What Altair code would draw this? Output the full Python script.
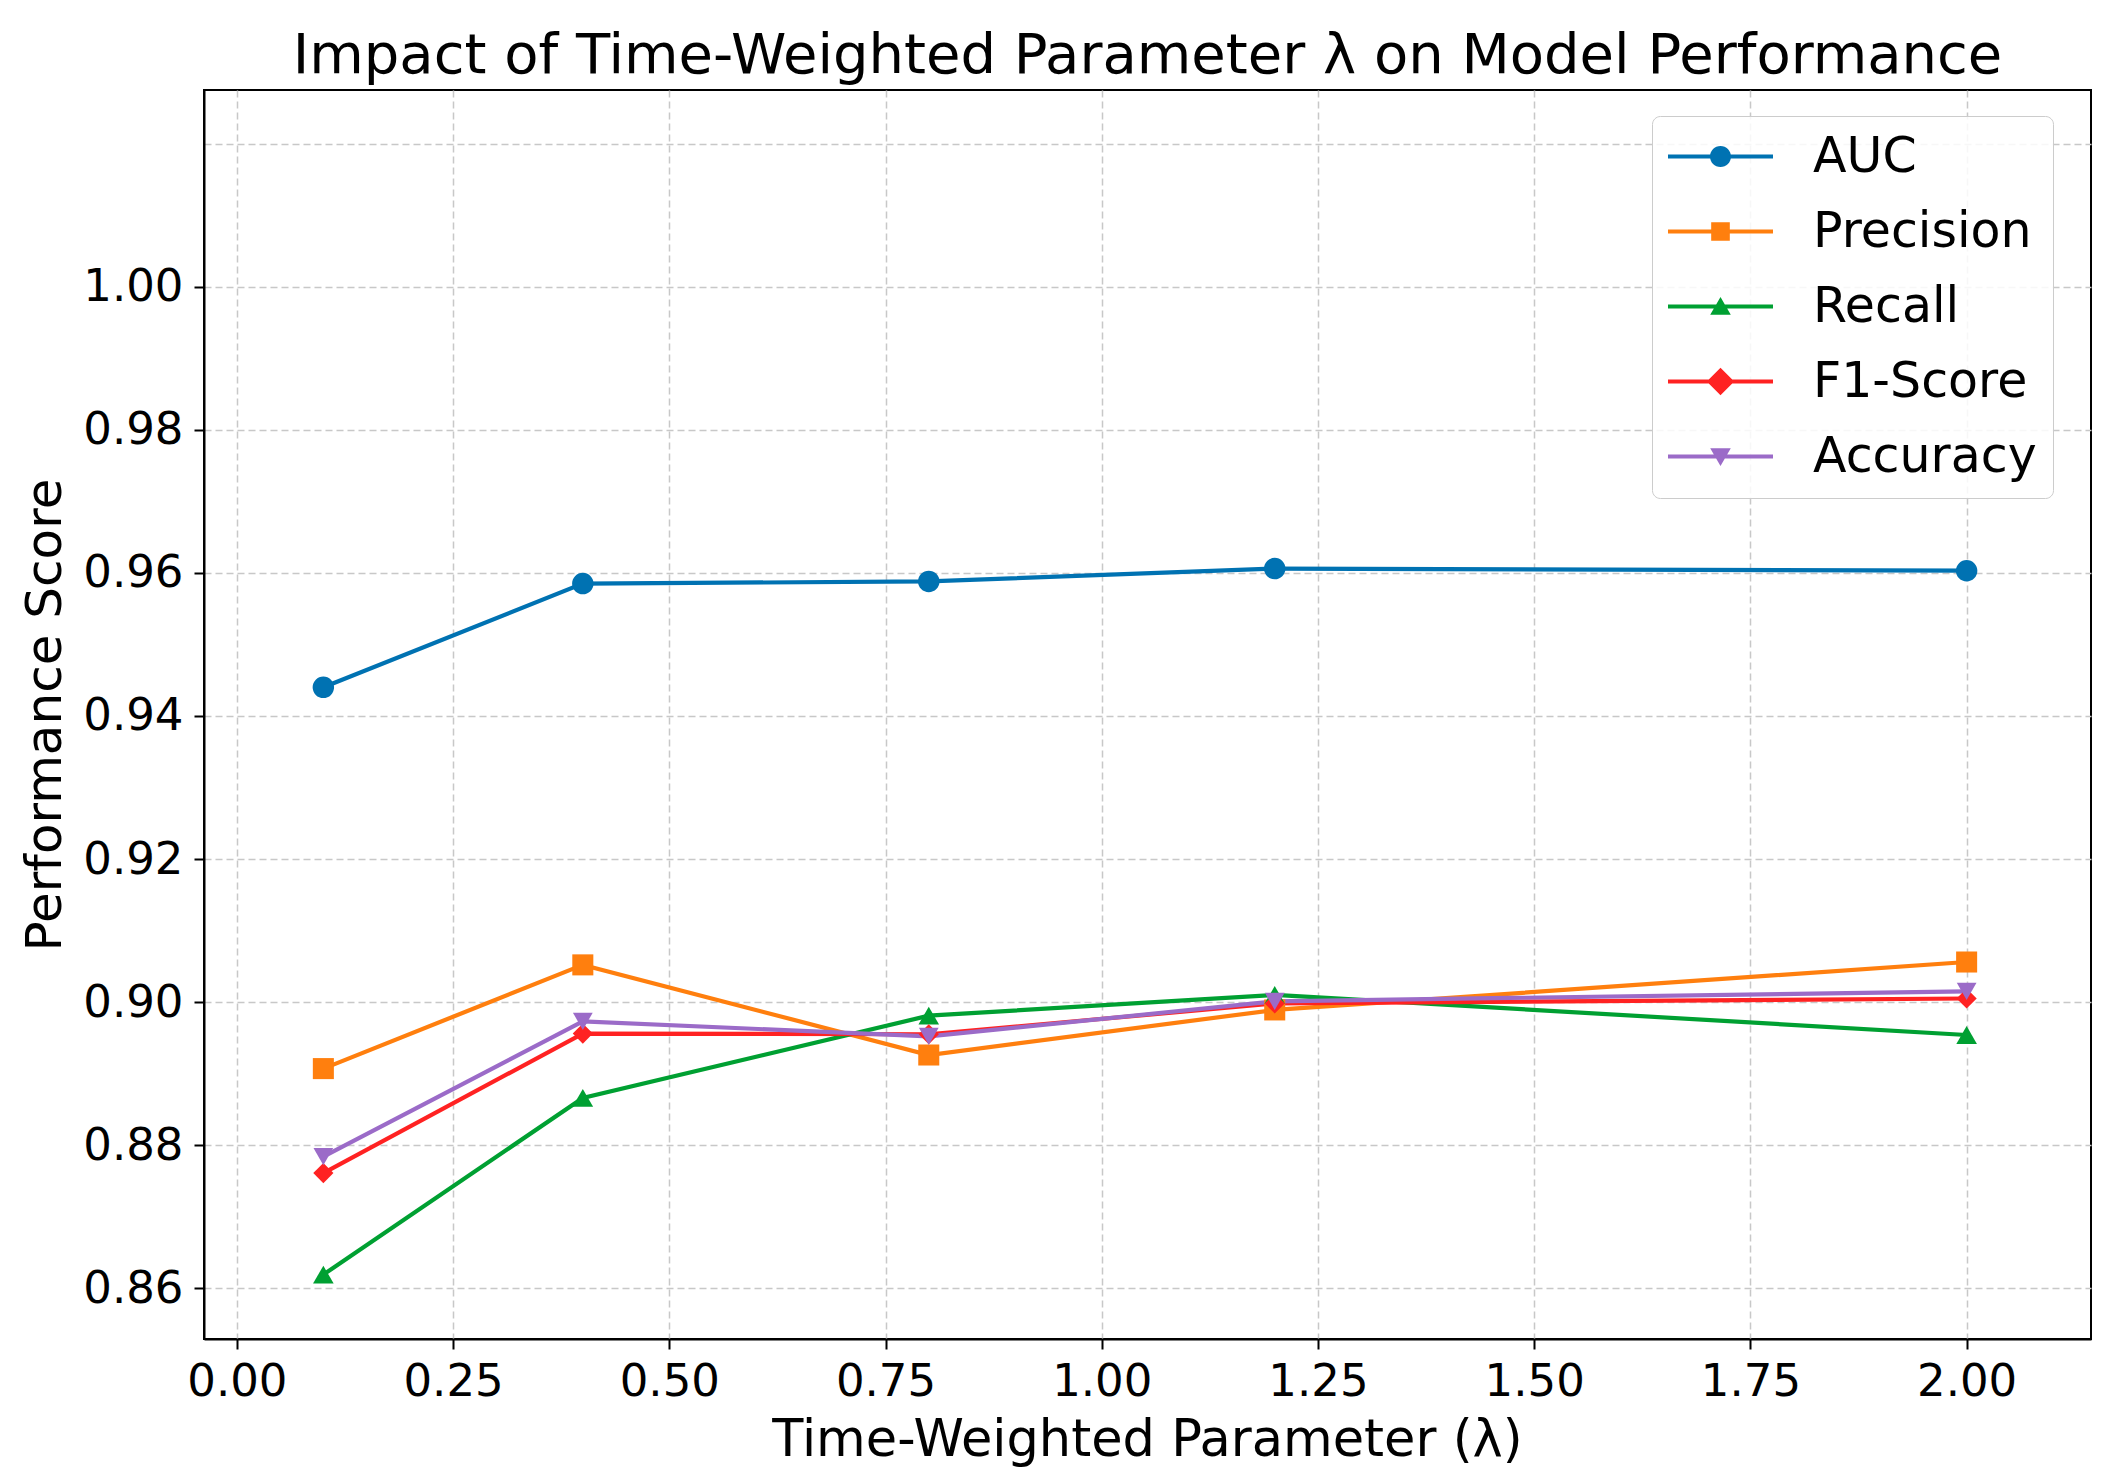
import altair as alt
import pandas as pd

# ---- data ----
lambdas = [0.1, 0.4, 0.8, 1.2, 2.0]
series = ["AUC", "Precision", "Recall", "F1-Score", "Accuracy"]
auc = [0.9440, 0.9585, 0.9588, 0.9606, 0.9603]
precision = [0.8907, 0.9052, 0.8926, 0.8989, 0.9056]
recall = [0.8619, 0.8866, 0.8981, 0.9010, 0.8954]
f1 = [0.8761, 0.8956, 0.8955, 0.8998, 0.9005]
accuracy = [0.8784, 0.8973, 0.8952, 0.9001, 0.9015]

x_ticks = [0.0, 0.25, 0.5, 0.75, 1.0, 1.25, 1.5, 1.75, 2.0]
y_ticks = [0.86, 0.88, 0.90, 0.92, 0.94, 0.96, 0.98, 1.00, 1.02]

colors = ["#0072B2", "#FF7F0E", "#00A032", "#FF2222", "#9B6BC8"]
shapes = ["circle", "square", "triangle-up", "diamond", "triangle-down"]
sizes = [460, 390, 460, 580, 460]

values = {"AUC": auc, "Precision": precision, "Recall": recall,
          "F1-Score": f1, "Accuracy": accuracy}
rows = []
for s in series:
    for lam, v in zip(lambdas, values[s]):
        rows.append({"lambda": lam, "score": v, "series": s})
df = pd.DataFrame(rows)

FONT = "DejaVu Sans"

# legend symbols: line segment + marker (custom SVG paths, unit = sqrt(size)/2)
LINE = "M-2.143,-0.08 L2.143,-0.08 L2.143,0.08 L-2.143,0.08 Z "
legend_shapes = [
    LINE + "M-0.43,0 A0.43,0.43 0 1,1 0.43,0 A0.43,0.43 0 1,1 -0.43,0 Z",
    LINE + "M-0.38,-0.38 L0.38,-0.38 L0.38,0.38 L-0.38,0.38 Z",
    LINE + "M0,-0.39 L0.42,0.34 L-0.42,0.34 Z",
    LINE + "M0,-0.56 L0.56,0 L0,0.56 L-0.56,0 Z",
    LINE + "M-0.42,-0.34 L0.42,-0.34 L0,0.39 Z",
]

x_enc = alt.X(
    "lambda:Q",
    scale=alt.Scale(domain=[-0.038, 2.1438], nice=False, zero=False),
    axis=alt.Axis(
        values=x_ticks, format=".2f", title="Time-Weighted Parameter (λ)",
        labelPadding=10, titleX=943, titleY=116, titleBaseline="alphabetic",
        titleFontSize=51,
    ),
)
y_enc = alt.Y(
    "score:Q",
    scale=alt.Scale(domain=[0.8529, 1.0275], nice=False, zero=False),
    axis=alt.Axis(
        values=y_ticks,
        labelExpr="datum.value > 1.01 ? '' : format(datum.value, '.2f')",
        tickOpacity={"condition": {"test": "datum.value > 1.01", "value": 0}, "value": 1},
        title="Performance Score", labelPadding=11,
        titleX=-144, titleY=624.5, titleBaseline="alphabetic", titleFontSize=50,
    ),
)


def color_scale():
    return alt.Scale(domain=series, range=colors)


leg = dict(
    title=None, orient="none", legendX=1448, legendY=26,
    labelFontSize=49, labelFont=FONT, labelColor="black",
    symbolSize=2401, symbolStrokeWidth=0, symbolOpacity=1, symbolOffset=28,
    labelOffset=68, padding=16, rowPadding=25, labelLimit=0,
    fillColor="rgba(255,255,255,0.85)", strokeColor="#cccccc",
    cornerRadius=8,
)

lines = alt.Chart(df).mark_line(strokeWidth=4.2, clip=True).encode(
    x=x_enc, y=y_enc,
    color=alt.Color("series:N", scale=color_scale(), legend=None),
)

points = alt.Chart(df).mark_point(filled=True, opacity=1, clip=True).encode(
    x=x_enc, y=y_enc,
    color=alt.Color("series:N", scale=color_scale(), legend=None),
    shape=alt.Shape("series:N", scale=alt.Scale(domain=series, range=shapes), legend=None),
    size=alt.Size("series:N", scale=alt.Scale(domain=series, range=sizes), legend=None),
)

# invisible layer that only supplies the legend (line + marker symbols)
legend_layer = alt.Chart(df).mark_point(filled=True, opacity=0).encode(
    x=x_enc, y=y_enc,
    color=alt.Color("series:N", scale=color_scale(), legend=alt.Legend(**leg)),
    shape=alt.Shape("series:N", scale=alt.Scale(domain=series, range=legend_shapes),
                    legend=alt.Legend(**leg)),
)

chart = (
    alt.layer(lines, points, legend_layer)
    .resolve_scale(color="independent", shape="independent")
    .properties(
        width=1887, height=1249,
        autosize=alt.AutoSizeParams(type="none"),
        padding={"left": 196, "top": 82, "right": 15, "bottom": 137},
        title=alt.TitleParams(
            "Impact of Time-Weighted Parameter λ on Model Performance",
            fontSize=56, font=FONT, fontWeight="normal", color="black",
            anchor="middle", frame="group", baseline="alphabetic", offset=4,
            dy=43,
        ),
    )
    .configure(background="white")
    .configure_view(stroke="black", strokeWidth=2)
    .configure_axis(
        labelFont=FONT, titleFont=FONT, labelFontSize=45, labelColor="black",
        titleColor="black", titleFontWeight="normal",
        tickSize=10, tickWidth=2, tickColor="black",
        domainColor="black", domainWidth=2,
        grid=True, gridColor="#c8c8c8", gridDash=[7, 4], gridWidth=1.5,
    )
)

chart.save("out.html", embed_options={"renderer": "svg", "actions": False})
